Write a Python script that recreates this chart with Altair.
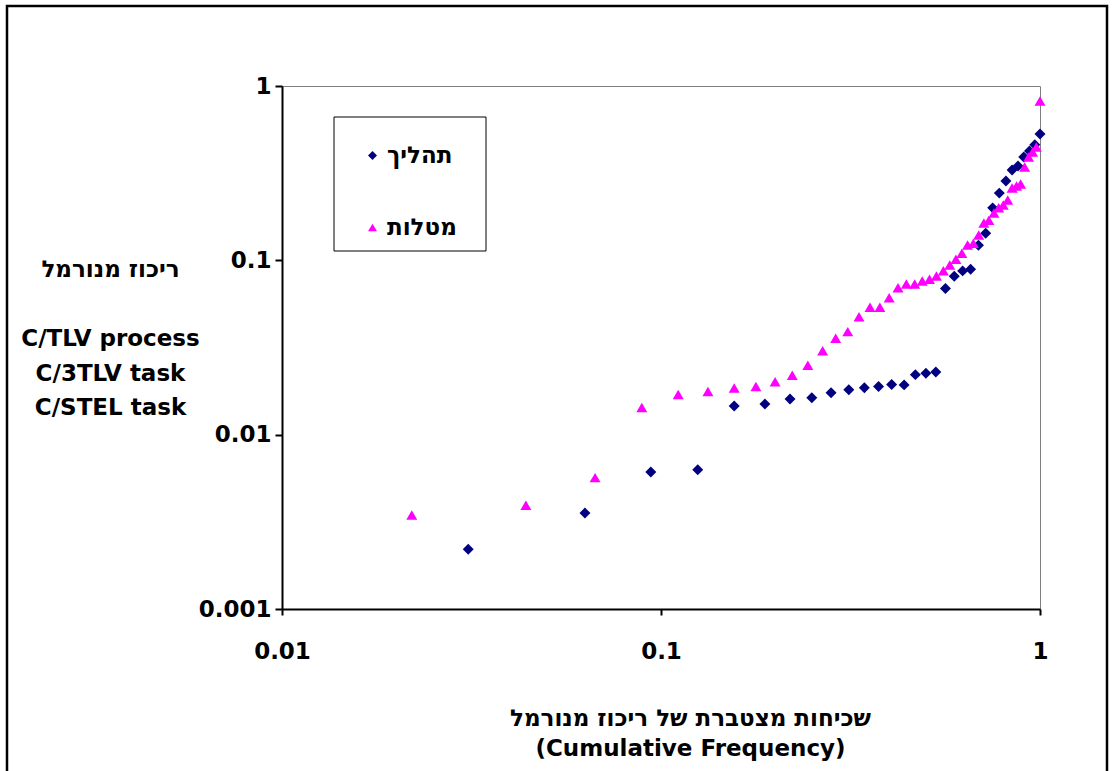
import altair as alt
import pandas as pd

FONT = "DejaVu Sans"
FS = 23

proc_label = "תהליך"
task_label = "מטלות"

proc_x = [0.031, 0.063, 0.094, 0.125, 0.156, 0.188, 0.219, 0.25, 0.281, 0.313,
          0.344, 0.375, 0.406, 0.438, 0.469, 0.5, 0.531, 0.563, 0.594, 0.625,
          0.656, 0.688, 0.719, 0.75, 0.781, 0.813, 0.844, 0.875, 0.906, 0.938,
          0.969, 1.0]
proc_y = [0.0022, 0.00355, 0.0061, 0.0063, 0.0146, 0.0150, 0.0160, 0.0163, 0.0174, 0.0181,
          0.0186, 0.0189, 0.0194, 0.0193, 0.0221, 0.0225, 0.0229, 0.069, 0.081, 0.087,
          0.089, 0.122, 0.143, 0.20, 0.243, 0.285, 0.33, 0.348, 0.392, 0.424,
          0.46, 0.53]

task_x = [0.022, 0.044, 0.067, 0.089, 0.111, 0.133, 0.156, 0.178, 0.2, 0.222,
          0.244, 0.267, 0.289, 0.311, 0.333, 0.356, 0.378, 0.4, 0.422, 0.444,
          0.467, 0.489, 0.511, 0.533, 0.556, 0.578, 0.6, 0.622, 0.644, 0.667,
          0.689, 0.711, 0.733, 0.756, 0.778, 0.8, 0.822, 0.844, 0.867, 0.889,
          0.911, 0.933, 0.956, 0.978, 1.0]
task_y = [0.00346, 0.00394, 0.00567, 0.0143, 0.0170, 0.0177, 0.0185, 0.0189, 0.0201, 0.0219,
          0.0250, 0.0303, 0.0357, 0.0390, 0.0475, 0.0538, 0.0538, 0.0611, 0.0697, 0.0731,
          0.0731, 0.0761, 0.0778, 0.0813, 0.0872, 0.0940, 0.1014, 0.1097, 0.1225, 0.1252,
          0.1397, 0.1637, 0.170, 0.187, 0.200, 0.208, 0.222, 0.260, 0.267, 0.274,
          0.343, 0.392, 0.418, 0.447, 0.82]

x_ticks = [0.01, 0.1, 1]
y_ticks = [0.001, 0.01, 0.1, 1]

x_title = ["שכיחות מצטברת של ריכוז מנורמל", "(Cumulative Frequency)"]
y_title = ["ריכוז מנורמל", "\u200b", "C/TLV process", "C/3TLV task", "C/STEL task"]

df = pd.concat([
    pd.DataFrame({"x": proc_x, "y": proc_y, "series": proc_label}),
    pd.DataFrame({"x": task_x, "y": task_y, "series": task_label}),
], ignore_index=True)

series_domain = [proc_label, task_label]

legend_kw = dict(title=None, orient="none", legendX=79, legendY=58,
                 symbolSize=80, labelFontSize=FS, labelFont=FONT,
                 labelFontWeight="bold", labelColor="black",
                 rowPadding=48, labelOffset=3, padding=0, symbolStrokeWidth=0)

points = alt.Chart(df).mark_point(filled=True, size=120, opacity=1, strokeWidth=0).encode(
    x=alt.X("x:Q",
            scale=alt.Scale(type="log", domain=[0.01, 1], nice=False),
            axis=alt.Axis(values=x_ticks, format="~g", title=x_title,
                          labelFlush=False, labelOverlap=False, labelPadding=25,
                          tickSize=6, titleX=408, titleY=98, titleAlign="center",
                          titleBaseline="top", titleLineHeight=30)),
    y=alt.Y("y:Q",
            scale=alt.Scale(type="log", domain=[0.001, 1], nice=False),
            axis=alt.Axis(values=y_ticks, format="~g", title=y_title,
                          labelFlush=False, labelOverlap=False, labelPadding=4,
                          tickSize=7, titleAngle=0, titleX=-172, titleY=172,
                          titleAlign="center", titleBaseline="top", titleLineHeight=34.7)),
    color=alt.Color("series:N",
                    scale=alt.Scale(domain=series_domain, range=["#000080", "#FF00FF"]),
                    legend=alt.Legend(**legend_kw)),
    shape=alt.Shape("series:N",
                    scale=alt.Scale(domain=series_domain, range=["diamond", "triangle-up"]),
                    legend=alt.Legend(**legend_kw)),
)

frame_df = pd.DataFrame({"k": [0]})
outer = alt.Chart(frame_df).mark_rect(fillOpacity=0, stroke="black", strokeWidth=2.5).encode(
    x=alt.value(-275), x2=alt.value(825), y=alt.value(-80), y2=alt.value(700))
legend_box = alt.Chart(frame_df).mark_rect(fillOpacity=0, stroke="black", strokeWidth=1).encode(
    x=alt.value(52), x2=alt.value(204), y=alt.value(31), y2=alt.value(165))

chart = alt.layer(outer, legend_box, points).properties(
    width=758, height=523,
    padding={"left": 282, "top": 86, "right": 73, "bottom": 162},
    autosize=alt.AutoSizeParams(type="none"),
    background="white",
).configure_view(
    stroke="#808080", strokeWidth=1
).configure_axis(
    grid=False,
    domainColor="black", domainWidth=2,
    tickColor="black", tickWidth=2,
    labelFont=FONT, labelFontSize=FS, labelFontWeight="bold", labelColor="black",
    titleFont=FONT, titleFontSize=FS, titleFontWeight="bold", titleColor="black",
)

chart.save("out.html", embed_options={"renderer": "svg", "actions": False})
